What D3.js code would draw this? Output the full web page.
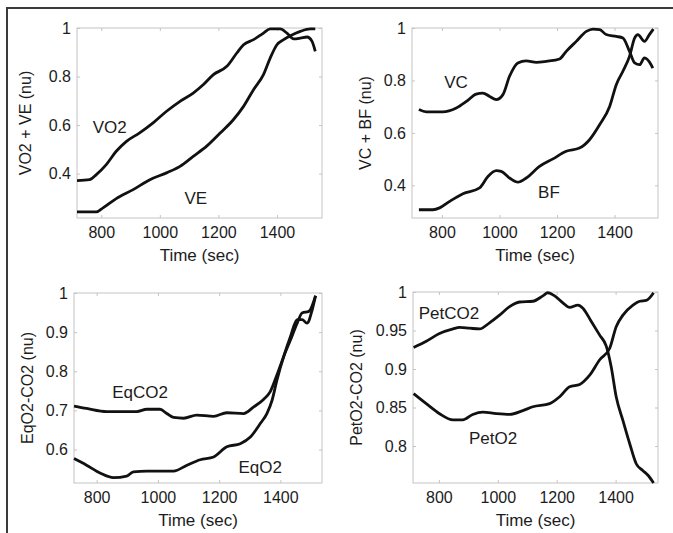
<!DOCTYPE html>
<html>
<head>
<meta charset="utf-8">
<script src="https://cdn.jsdelivr.net/npm/d3@7"></script>
<style>
  body { margin: 0; background: #fff; }
  svg { display: block; font-family: "Liberation Sans", Arial, sans-serif; }
</style>
</head>
<body>
<svg id="chart" width="673" height="533"></svg>
<script>
// [time (sec), normalised value]
const vo2 = [[717, 0.371], [760, 0.375], [783, 0.396], [817, 0.437], [851, 0.492], [886, 0.533],
    [931, 0.568], [977, 0.609], [1023, 0.657], [1069, 0.698], [1114, 0.732], [1149, 0.767],
    [1183, 0.808], [1229, 0.842], [1263, 0.897], [1286, 0.931], [1320, 0.952], [1354, 0.979],
    [1377, 0.996], [1411, 0.996], [1434, 0.979], [1457, 0.955], [1480, 0.958], [1503, 0.963],
    [1520, 0.945], [1531, 0.904]];
const ve = [[717, 0.242], [783, 0.242], [806, 0.259], [851, 0.297], [909, 0.334], [966, 0.375],
    [1023, 0.403], [1069, 0.430], [1114, 0.471], [1160, 0.513], [1206, 0.567], [1251, 0.622],
    [1286, 0.677], [1320, 0.746], [1354, 0.808], [1377, 0.876], [1400, 0.931], [1423, 0.952],
    [1446, 0.968], [1480, 0.986], [1514, 0.996], [1531, 0.996]];

const vc = [[720, 0.689], [746, 0.680], [803, 0.680], [850, 0.695], [885, 0.720], [919, 0.748],
    [942, 0.752], [966, 0.739], [989, 0.727], [1012, 0.746], [1035, 0.816], [1064, 0.867],
    [1093, 0.875], [1128, 0.869], [1163, 0.873], [1209, 0.882], [1232, 0.911], [1267, 0.949],
    [1302, 0.987], [1325, 0.996], [1348, 0.994], [1371, 0.975], [1406, 0.968], [1429, 0.962],
    [1452, 0.911], [1470, 0.867], [1487, 0.860], [1504, 0.886], [1527, 0.860], [1533, 0.847]];
const bf = [[720, 0.307], [769, 0.307], [792, 0.314], [827, 0.339], [873, 0.368], [931, 0.390],
    [960, 0.434], [989, 0.456], [1006, 0.453], [1035, 0.428], [1064, 0.412], [1093, 0.428],
    [1139, 0.472], [1186, 0.501], [1232, 0.530], [1278, 0.542], [1313, 0.574], [1348, 0.631],
    [1383, 0.701], [1406, 0.784], [1429, 0.835], [1452, 0.892], [1470, 0.962], [1481, 0.975],
    [1504, 0.949], [1521, 0.975], [1535, 0.996]];

const eqco2 = [[726, 0.711], [767, 0.705], [833, 0.697], [931, 0.697], [964, 0.703], [1007, 0.703],
    [1029, 0.692], [1051, 0.682], [1084, 0.680], [1127, 0.688], [1182, 0.685], [1225, 0.694],
    [1280, 0.692], [1313, 0.709], [1345, 0.728], [1367, 0.748], [1389, 0.791], [1411, 0.838],
    [1433, 0.880], [1455, 0.923], [1471, 0.949], [1493, 0.953], [1515, 0.993]];
const eqo2 = [[726, 0.577], [767, 0.560], [811, 0.540], [855, 0.528], [898, 0.532], [920, 0.543],
    [964, 0.545], [1051, 0.545], [1095, 0.560], [1138, 0.574], [1182, 0.581], [1225, 0.607],
    [1269, 0.615], [1302, 0.632], [1335, 0.667], [1356, 0.692], [1373, 0.726], [1389, 0.778],
    [1411, 0.838], [1433, 0.889], [1455, 0.932], [1471, 0.932], [1487, 0.923], [1504, 0.957],
    [1515, 0.993]];

const petco2 = [[714, 0.928], [757, 0.936], [802, 0.946], [848, 0.952], [870, 0.954], [904, 0.953],
    [938, 0.952], [972, 0.960], [1006, 0.970], [1040, 0.981], [1074, 0.987], [1119, 0.988],
    [1153, 0.995], [1170, 0.999], [1193, 0.995], [1221, 0.986], [1244, 0.980], [1272, 0.983],
    [1289, 0.979], [1317, 0.962], [1346, 0.944], [1368, 0.930], [1385, 0.903], [1402, 0.864],
    [1425, 0.833], [1448, 0.803], [1470, 0.777], [1493, 0.768], [1510, 0.762], [1529, 0.752]];
const peto2 = [[714, 0.868], [757, 0.855], [802, 0.842], [848, 0.834], [881, 0.834], [915, 0.841],
    [949, 0.844], [995, 0.842], [1040, 0.841], [1085, 0.846], [1119, 0.851], [1176, 0.855],
    [1210, 0.864], [1244, 0.877], [1278, 0.880], [1312, 0.892], [1346, 0.912], [1380, 0.927],
    [1402, 0.955], [1425, 0.970], [1459, 0.983], [1482, 0.988], [1504, 0.989], [1529, 0.999]];

const xTicks = [800, 1000, 1200, 1400];
const yTicksTop = [0.4, 0.6, 0.8, 1];
const yTicksEq = [0.6, 0.7, 0.8, 0.9, 1];
const yTicksPet = [0.8, 0.85, 0.9, 0.95, 1];

// panel layout (pixel box + axis limits), series label anchors in data units
const panels = [
    { box: [77, 28, 322, 218], xDom: [717, 1554], yDom: [0.217, 1], yTicks: yTicksTop,
      yLabel: "VO2 + VE (nu)", yLabelX: 25,
      series: [vo2, ve], labels: [["VO2", 829, 0.593], ["VE", 1123, 0.30]] },
    { box: [412, 28, 658, 218], xDom: [696, 1551], yDom: [0.2755, 1], yTicks: yTicksTop,
      yLabel: "VC + BF (nu)", yLabelX: 365,
      series: [vc, bf], labels: [["VC", 849, 0.795], ["BF", 1172, 0.376]] },
    { box: [74, 293, 322, 483], xDom: [726, 1536], yDom: [0.5145, 1], yTicks: yTicksEq,
      yLabel: "EqO2-CO2 (nu)", yLabelX: 27,
      series: [eqco2, eqo2], labels: [["EqCO2", 942, 0.747], ["EqO2", 1334, 0.555]] },
    { box: [413, 292, 658, 483], xDom: [712, 1544], yDom: [0.752, 1], yTicks: yTicksPet,
      yLabel: "PetO2-CO2 (nu)", yLabelX: 356,
      series: [petco2, peto2], labels: [["PetCO2", 834, 0.973], ["PetO2", 984, 0.810]] }
];

const svg = d3.select("#chart");
const textColor = "#1c1c1c";
const boxColor = "#c4c4c4";

// outer frame (top + left only)
svg.append("line")
    .attr("x1", 7).attr("y1", 8).attr("x2", 673).attr("y2", 8)
    .attr("stroke", "#3a3a3a").attr("stroke-width", 2);
svg.append("line")
    .attr("x1", 7).attr("y1", 7).attr("x2", 7).attr("y2", 533)
    .attr("stroke", "#3a3a3a").attr("stroke-width", 2);

function drawPanel(p) {
    let [x0, y0, x1, y1] = p.box;
    let x = d3.scaleLinear().domain(p.xDom).range([x0, x1]);
    let y = d3.scaleLinear().domain(p.yDom).range([y1, y0]);
    let g = svg.append("g");

    g.append("rect")
        .attr("x", x0).attr("y", y0)
        .attr("width", x1 - x0).attr("height", y1 - y0)
        .attr("fill", "none")
        .attr("stroke", boxColor)
        .attr("stroke-width", 1);

    let fmt = d => String(d);

    let bottom = g.append("g")
        .attr("transform", `translate(0,${y1})`)
        .call(d3.axisBottom(x).tickValues(xTicks).tickSize(-3).tickPadding(9).tickFormat(fmt));
    let left = g.append("g")
        .attr("transform", `translate(${x0},0)`)
        .call(d3.axisLeft(y).tickValues(p.yTicks).tickSize(-3).tickPadding(6).tickFormat(fmt));
    let top = g.append("g")
        .attr("transform", `translate(0,${y0})`)
        .call(d3.axisTop(x).tickValues(xTicks).tickSize(-3).tickFormat(""));
    let right = g.append("g")
        .attr("transform", `translate(${x1},0)`)
        .call(d3.axisRight(y).tickValues(p.yTicks).tickSize(-3).tickFormat(""));

    for (let a of [bottom, left, top, right]) {
        a.select(".domain").remove();
        a.selectAll(".tick line").attr("stroke", boxColor);
        a.selectAll(".tick text")
            .attr("fill", textColor)
            .style("font-size", "16px")
            .style("font-family", "'Liberation Sans', Arial, sans-serif");
    }

    g.append("text")
        .attr("x", (x0 + x1) / 2)
        .attr("y", y1 + 37)
        .attr("dy", "0.35em")
        .attr("text-anchor", "middle")
        .attr("fill", textColor)
        .style("font-size", "17px")
        .text("Time (sec)");

    g.append("text")
        .attr("transform", `translate(${p.yLabelX},${(y0 + y1) / 2}) rotate(-90)`)
        .attr("dy", "0.35em")
        .attr("text-anchor", "middle")
        .attr("fill", textColor)
        .style("font-size", "16px")
        .text(p.yLabel);

    let line = d3.line()
        .x(d => x(d[0]))
        .y(d => y(d[1]))
        .curve(d3.curveMonotoneX);

    g.selectAll("path.series")
        .data(p.series)
        .join("path")
        .attr("class", "series")
        .attr("d", line)
        .attr("fill", "none")
        .attr("stroke", "#111")
        .attr("stroke-width", 2.8)
        .attr("stroke-linejoin", "round");

    g.selectAll("text.lab")
        .data(p.labels)
        .join("text")
        .attr("class", "lab")
        .attr("x", d => x(d[1]))
        .attr("y", d => y(d[2]))
        .attr("dy", "0.35em")
        .attr("text-anchor", "middle")
        .attr("fill", textColor)
        .style("font-size", "17px")
        .text(d => d[0]);
}

panels.forEach(drawPanel);
</script>
</body>
</html>
